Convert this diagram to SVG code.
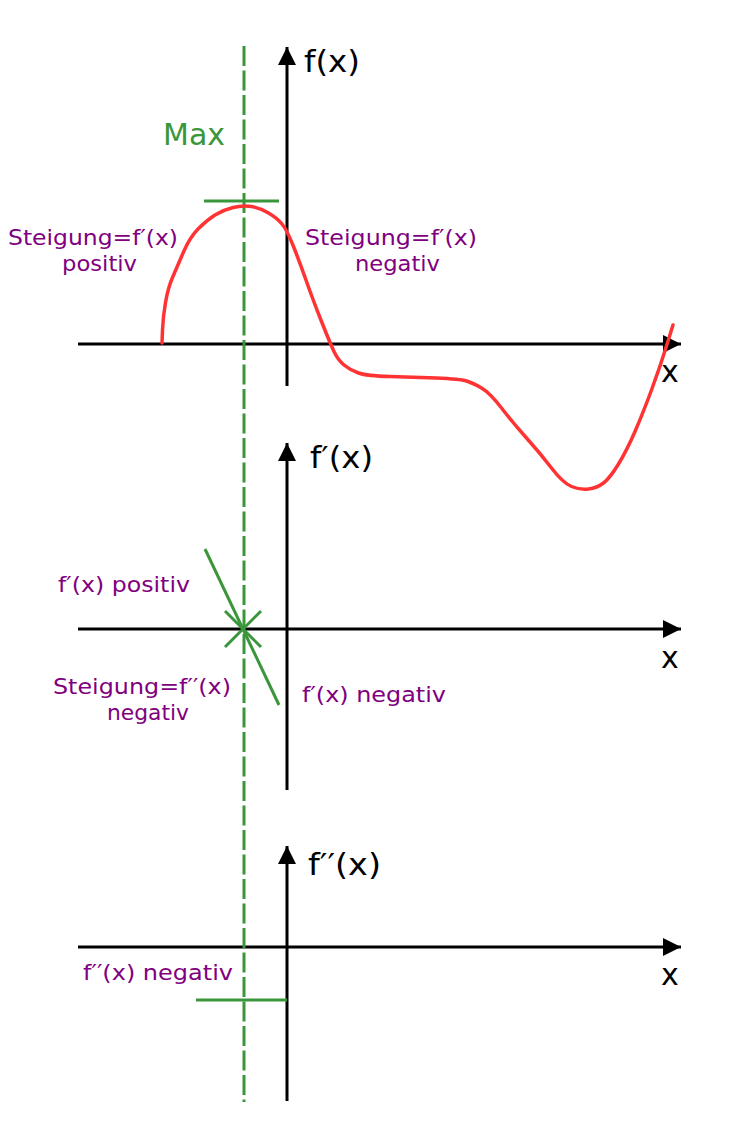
<svg xmlns="http://www.w3.org/2000/svg" width="750" height="1130" viewBox="0 0 750 1130">
<style>
.ax{stroke:#000;stroke-width:3;fill:none}
.gr{stroke:#3a963a;stroke-width:3;fill:none}
.lbl{font-family:"DejaVu Sans",Verdana,sans-serif;font-size:30px;fill:#000}
.pt{font-family:"DejaVu Sans",Verdana,sans-serif;font-size:21px;fill:#800080}
.mx{font-family:"DejaVu Sans",Verdana,sans-serif;font-size:30px;fill:#3a963a}
</style>
<defs>
<marker id="ah" viewBox="0 0 10 10" refX="10" refY="5" markerWidth="6.3" markerHeight="6" orient="auto" markerUnits="strokeWidth">
<path d="M0,0 L10,5 L0,10 z" fill="#000"/>
</marker>
</defs>
<rect width="750" height="1130" fill="#fff"/>
<g id="axes">
<line class="ax" x1="287" y1="386" x2="287" y2="47" marker-end="url(#ah)"/>
<line class="ax" x1="78" y1="344" x2="681" y2="344" marker-end="url(#ah)"/>
<line class="ax" x1="287" y1="790" x2="287" y2="443" marker-end="url(#ah)"/>
<line class="ax" x1="78" y1="629" x2="681" y2="629" marker-end="url(#ah)"/>
<line class="ax" x1="287" y1="1101" x2="287" y2="846" marker-end="url(#ah)"/>
<line class="ax" x1="78" y1="947" x2="681" y2="947" marker-end="url(#ah)"/>
</g>
<g id="axis-labels">
<text class="lbl" x="304" y="72" textLength="56" lengthAdjust="spacingAndGlyphs">f(x)</text>
<text class="lbl" x="310" y="468" textLength="63" lengthAdjust="spacingAndGlyphs">f′(x)</text>
<text class="lbl" x="308" y="875" textLength="73" lengthAdjust="spacingAndGlyphs">f′′(x)</text>
<text class="lbl" x="661" y="382">x</text>
<text class="lbl" x="661" y="668">x</text>
<text class="lbl" x="661" y="985">x</text>
</g>
<g id="max-line">
<line class="gr" x1="244" y1="46" x2="244" y2="1102" stroke-dasharray="20 4.5"/>
<text class="mx" x="163" y="145">Max</text>
</g>
<g id="curve">
<path d="M162,343 L162.5,330 Q163,317 165.5,302.5 Q168,288 172.5,277.5 Q177,267 183.5,252 Q190,237 198.5,228.5 Q207,220 215,215 Q223,210 233,207.5 Q243,205 251.5,206.5 Q260,208 268.5,213 Q277,218 282,224 Q287,230 293.5,246.5 Q300,263 306.5,281.5 Q313,300 321.5,321.5 Q330,343 334,351.5 Q338,360 344,365 Q350,370 358.5,373 Q367,376 390,376.5 Q413,377 436.5,378 Q460,379 466.5,381 Q473,383 481.5,388 Q490,393 501.5,408 Q513,423 526.5,438 Q540,453 551.5,468 Q563,483 571.5,486.5 Q580,490 588.5,489 Q597,488 603.5,483 Q610,478 618.5,464 Q627,450 635,431.5 Q643,413 651.5,390 Q660,367 666.5,346 L673,325" fill="none" stroke="#ff3333" stroke-width="3.5" stroke-linecap="round" stroke-linejoin="round"/>
<line class="gr" x1="204" y1="201" x2="279" y2="201"/>
</g>
<g id="texts-top">
<text class="pt" x="8" y="245" textLength="170" lengthAdjust="spacingAndGlyphs">Steigung=f′(x)</text>
<text class="pt" x="62" y="271" textLength="75" lengthAdjust="spacingAndGlyphs">positiv</text>
<text class="pt" x="305" y="245" textLength="172" lengthAdjust="spacingAndGlyphs">Steigung=f′(x)</text>
<text class="pt" x="355" y="271" textLength="85" lengthAdjust="spacingAndGlyphs">negativ</text>
</g>
<g id="tangent-fprime">
<line class="gr" x1="205" y1="549" x2="279" y2="705"/>
<line class="gr" x1="225" y1="611" x2="261" y2="647"/>
<line class="gr" x1="225" y1="647" x2="261" y2="611"/>
<text class="pt" x="58" y="592" textLength="132" lengthAdjust="spacingAndGlyphs">f′(x) positiv</text>
<text class="pt" x="53" y="694" textLength="178" lengthAdjust="spacingAndGlyphs">Steigung=f′′(x)</text>
<text class="pt" x="107" y="720" textLength="82" lengthAdjust="spacingAndGlyphs">negativ</text>
<text class="pt" x="302" y="702" textLength="144" lengthAdjust="spacingAndGlyphs">f′(x) negativ</text>
</g>
<g id="fpp">
<line class="gr" x1="196" y1="1000" x2="287" y2="1000"/>
<text class="pt" x="83" y="980" textLength="150" lengthAdjust="spacingAndGlyphs">f′′(x) negativ</text>
</g>
</svg>
